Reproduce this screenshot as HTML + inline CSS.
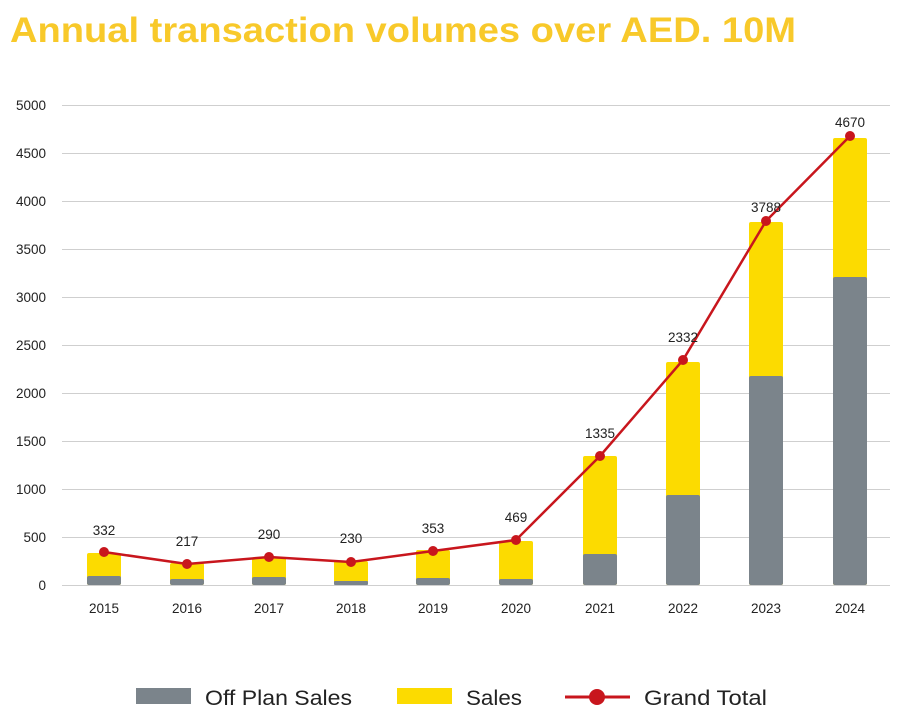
<!DOCTYPE html>
<html><head><meta charset="utf-8"><style>
body{margin:0;background:#fff;width:900px;height:722px;overflow:hidden}
text{font-family:"Liberation Sans",sans-serif}
</style></head><body>
<svg width="900" height="722" viewBox="0 0 900 722" xmlns="http://www.w3.org/2000/svg">
<text x="10" y="42" font-size="35" font-weight="bold" fill="#f8c92a" textLength="786" lengthAdjust="spacingAndGlyphs">Annual transaction volumes over AED. 10M</text>
<g stroke="#cfcfcf" stroke-width="1">
<line x1="62" x2="890" y1="105.5" y2="105.5"/><line x1="62" x2="890" y1="153.5" y2="153.5"/><line x1="62" x2="890" y1="201.5" y2="201.5"/><line x1="62" x2="890" y1="249.5" y2="249.5"/><line x1="62" x2="890" y1="297.5" y2="297.5"/><line x1="62" x2="890" y1="345.5" y2="345.5"/><line x1="62" x2="890" y1="393.5" y2="393.5"/><line x1="62" x2="890" y1="441.5" y2="441.5"/><line x1="62" x2="890" y1="489.5" y2="489.5"/><line x1="62" x2="890" y1="537.5" y2="537.5"/><line x1="62" x2="890" y1="585.5" y2="585.5"/>
</g>
<g font-size="13.5" fill="#222" text-anchor="end">
<text x="46" y="110">5000</text><text x="46" y="158">4500</text><text x="46" y="206">4000</text><text x="46" y="254">3500</text><text x="46" y="302">3000</text><text x="46" y="350">2500</text><text x="46" y="398">2000</text><text x="46" y="446">1500</text><text x="46" y="494">1000</text><text x="46" y="542">500</text><text x="46" y="590">0</text>
</g>
<g fill="#fcdb00">
<rect x="87" y="553" width="34" height="32" rx="2"/><rect x="170" y="563" width="34" height="22" rx="2"/><rect x="252" y="557" width="34" height="28" rx="2"/><rect x="334" y="561" width="34" height="24" rx="2"/><rect x="416" y="550" width="34" height="35" rx="2"/><rect x="499" y="541" width="34" height="44" rx="2"/><rect x="583" y="456" width="34" height="129" rx="2"/><rect x="666" y="362" width="34" height="223" rx="2"/><rect x="749" y="222" width="34" height="363" rx="2"/><rect x="833" y="138" width="34" height="447" rx="2"/>
</g>
<g fill="#7b848b">
<rect x="87" y="576" width="34" height="9" rx="2"/><rect x="170" y="579" width="34" height="6" rx="2"/><rect x="252" y="577" width="34" height="8" rx="2"/><rect x="334" y="581" width="34" height="4" rx="1"/><rect x="416" y="578" width="34" height="7" rx="2"/><rect x="499" y="579" width="34" height="6" rx="2"/><rect x="583" y="554" width="34" height="31" rx="2"/><rect x="666" y="495" width="34" height="90" rx="2"/><rect x="749" y="376" width="34" height="209" rx="2"/><rect x="833" y="277" width="34" height="308" rx="2"/>
</g>
<polyline fill="none" stroke="#c8161d" stroke-width="2.5" points="104,552 187,564 269,557 351,562 433,551 516,540 600,456 683,360 766,221 850,136"/>
<g fill="#c8161d">
<circle cx="104" cy="552" r="5"/><circle cx="187" cy="564" r="5"/><circle cx="269" cy="557" r="5"/><circle cx="351" cy="562" r="5"/><circle cx="433" cy="551" r="5"/><circle cx="516" cy="540" r="5"/><circle cx="600" cy="456" r="5"/><circle cx="683" cy="360" r="5"/><circle cx="766" cy="221" r="5"/><circle cx="850" cy="136" r="5"/>
</g>
<g font-size="13.5" fill="#222" text-anchor="middle">
<text x="104" y="535">332</text><text x="187" y="546">217</text><text x="269" y="539">290</text><text x="351" y="543">230</text><text x="433" y="533">353</text><text x="516" y="522">469</text><text x="600" y="438">1335</text><text x="683" y="342">2332</text><text x="766" y="212">3788</text><text x="850" y="127">4670</text>
<text x="104" y="613">2015</text><text x="187" y="613">2016</text><text x="269" y="613">2017</text><text x="351" y="613">2018</text><text x="433" y="613">2019</text><text x="516" y="613">2020</text><text x="600" y="613">2021</text><text x="683" y="613">2022</text><text x="766" y="613">2023</text><text x="850" y="613">2024</text>
</g>
<rect x="136" y="688" width="55" height="16" fill="#7b848b"/>
<text x="205" y="705" font-size="21" fill="#222" textLength="147" lengthAdjust="spacingAndGlyphs">Off Plan Sales</text>
<rect x="397" y="688" width="55" height="16" fill="#fcdb00"/>
<text x="466" y="705" font-size="21" fill="#222" textLength="56" lengthAdjust="spacingAndGlyphs">Sales</text>
<line x1="565" x2="630" y1="697" y2="697" stroke="#c8161d" stroke-width="3"/>
<circle cx="597" cy="697" r="8" fill="#c8161d"/>
<text x="644" y="705" font-size="21" fill="#222" textLength="123" lengthAdjust="spacingAndGlyphs">Grand Total</text>
</svg>
</body></html>
